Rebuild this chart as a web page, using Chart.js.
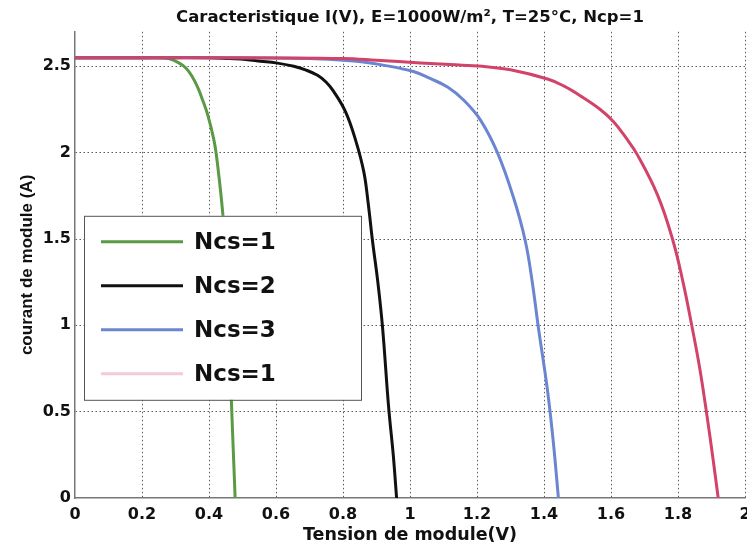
<!DOCTYPE html>
<html>
<head>
<meta charset="utf-8">
<script src="https://cdn.jsdelivr.net/npm/chart.js@4/dist/chart.umd.min.js"></script>
<style>
  html, body { margin: 0; padding: 0; background: #fff; overflow: hidden; }
  #wrap { width: 770px; height: 546px; }
</style>
</head>
<body>
<div id="wrap"><canvas id="c" width="770" height="546"></canvas></div>
<script>
// I(V) curves of the module for different numbers of series cells
const seriesLabels = ['Ncs=1', 'Ncs=2', 'Ncs=3', 'Ncs=1'];

const v1 = [0, 0.1, 0.2, 0.25, 0.28, 0.31, 0.331, 0.35, 0.366, 0.38, 0.396, 0.415, 0.425, 0.441, 0.452, 0.459, 0.468, 0.474, 0.478];
const i1 = [2.55, 2.55, 2.55, 2.55, 2.545, 2.52, 2.49, 2.44, 2.38, 2.31, 2.22, 2.07, 1.94, 1.65, 1.35, 1.0, 0.5, 0.2, 0];

const v2 = [0, 0.2, 0.4, 0.46, 0.51, 0.554, 0.6, 0.653, 0.69, 0.724, 0.75, 0.772, 0.808, 0.838, 0.862, 0.875, 0.888, 0.904, 0.918, 0.936, 0.95, 0.96];
const i2 = [2.55, 2.55, 2.55, 2.545, 2.54, 2.53, 2.52, 2.50, 2.478, 2.448, 2.408, 2.355, 2.235, 2.07, 1.89, 1.71, 1.49, 1.25, 0.99, 0.53, 0.25, 0];

const v3 = [0, 0.4, 0.7, 0.8, 0.86, 0.912, 1.01, 1.06, 1.112, 1.16, 1.21, 1.261, 1.309, 1.344, 1.365, 1.383, 1.41, 1.428, 1.443];
const i3 = [2.55, 2.55, 2.545, 2.535, 2.525, 2.51, 2.47, 2.43, 2.38, 2.305, 2.19, 2.00, 1.74, 1.49, 1.25, 0.99, 0.63, 0.32, 0];

const v4 = [0, 0.4, 0.8, 0.9, 1.031, 1.12, 1.216, 1.3, 1.413, 1.46, 1.508, 1.568, 1.607, 1.645, 1.678, 1.74, 1.785, 1.815, 1.842, 1.865, 1.887, 1.905, 1.92];
const i4 = [2.55, 2.55, 2.545, 2.535, 2.52, 2.51, 2.50, 2.48, 2.425, 2.385, 2.33, 2.25, 2.18, 2.085, 1.99, 1.75, 1.49, 1.25, 0.99, 0.75, 0.47, 0.22, 0];

const xTicks = [0, 0.2, 0.4, 0.6, 0.8, 1, 1.2, 1.4, 1.6, 1.8, 2];
const yTicks = [0, 0.5, 1, 1.5, 2, 2.5];

const lineColors = ['#5a9a45', '#111111', '#6b85d0', '#d2436a'];
const legendColors = ['#5a9a45', '#111111', '#6b85d0', '#f3c9dc'];

const WIDE = 'DejaVu Sans, Verdana, sans-serif';
const NARROW = 'Liberation Sans, Arial, sans-serif';
const GRID = 'rgba(50,50,50,0.8)';

function pts(v, i) { return v.map((x, k) => ({ x: x, y: i[k] })); }
function gridColor(ctx) { return ctx.tick && ctx.tick.value === 0 ? 'rgba(0,0,0,0)' : GRID; }

const curves = [[v1, i1], [v2, i2], [v3, i3], [v4, i4]];
const datasets = curves.map((c, k) => ({
  label: seriesLabels[k],
  data: pts(c[0], c[1]),
  borderColor: lineColors[k],
  borderWidth: 3,
  pointRadius: 0,
  tension: 0.4,
  fill: false,
  order: 4 - k
}));

// Boxed legend drawn inside the plot area
const boxLegend = {
  id: 'boxLegend',
  afterDatasetsDraw(chart) {
    const ctx = chart.ctx;
    const a = chart.chartArea;
    const x0 = a.left + 9, y0 = a.top + 184, w = 277, h = 184;
    ctx.save();
    ctx.fillStyle = '#fff';
    ctx.fillRect(x0, y0, w, h);
    ctx.strokeStyle = '#555';
    ctx.lineWidth = 1;
    ctx.strokeRect(x0 + 0.5, y0 + 0.5, w, h);
    ctx.font = 'bold 23px ' + WIDE;
    ctx.textBaseline = 'middle';
    ctx.textAlign = 'left';
    chart.data.datasets.forEach((ds, k) => {
      const yy = y0 + 26 + k * 44;
      ctx.strokeStyle = legendColors[k];
      ctx.lineWidth = 3;
      ctx.beginPath();
      ctx.moveTo(x0 + 17, yy);
      ctx.lineTo(x0 + 99, yy);
      ctx.stroke();
      ctx.fillStyle = '#111';
      ctx.fillText(ds.label, x0 + 110, yy + 1);
    });
    ctx.restore();
  }
};

new Chart(document.getElementById('c'), {
  type: 'line',
  data: { datasets: datasets },
  plugins: [boxLegend],
  options: {
    responsive: false,
    animation: false,
    layout: { padding: { left: 0, right: 25, top: 0, bottom: 0 } },
    plugins: {
      legend: { display: false },
      tooltip: { enabled: false },
      title: {
        display: true,
        fullSize: false,
        text: 'Caracteristique I(V), E=1000W/m², T=25°C, Ncp=1',
        color: '#111',
        font: { family: WIDE, size: 16.5, weight: 'bold', lineHeight: 1.2 },
        padding: { top: 8, bottom: 4 }
      }
    },
    scales: {
      x: {
        type: 'linear',
        min: 0,
        max: 2,
        afterBuildTicks(s) { s.ticks = xTicks.map(v => ({ value: v })); },
        afterFit(s) { s.height = 48; },
        ticks: {
          color: '#111',
          padding: 7,
          maxRotation: 0,
          autoSkip: false,
          font: { family: WIDE, size: 16, weight: 'bold' },
          callback: v => String(v)
        },
        grid: { color: gridColor, lineWidth: 1, drawTicks: false },
        border: { display: true, color: '#777', width: 1.5, dash: [1.5, 2.5] },
        title: {
          display: true,
          text: 'Tension de module(V)',
          color: '#111',
          font: { family: WIDE, size: 17.5, weight: 'bold', lineHeight: 1.2 },
          padding: { top: 0, bottom: 0 }
        }
      },
      y: {
        type: 'linear',
        min: 0,
        max: 2.7,
        afterBuildTicks(s) { s.ticks = yTicks.map(v => ({ value: v })); },
        afterFit(s) { s.width = 75; },
        ticks: {
          color: '#111',
          padding: 4,
          autoSkip: false,
          font: { family: WIDE, size: 16, weight: 'bold' },
          callback: v => String(v)
        },
        grid: { color: gridColor, lineWidth: 1, drawTicks: false },
        border: { display: true, color: '#777', width: 1.5, dash: [1.5, 2.5] },
        title: {
          display: true,
          text: 'courant de module (A)',
          color: '#111',
          font: { family: NARROW, size: 17, weight: 'bold', lineHeight: 1.2 },
          padding: { top: 17, bottom: 0 }
        }
      }
    }
  }
});
</script>
</body>
</html>
